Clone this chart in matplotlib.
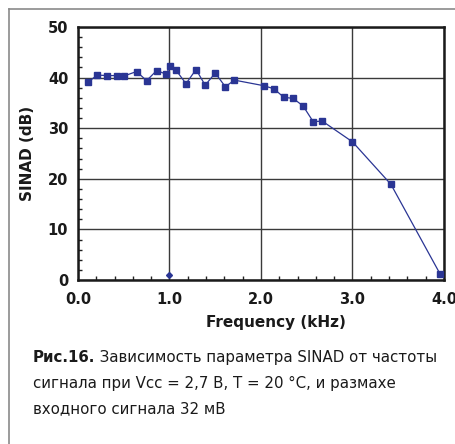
import matplotlib
matplotlib.use("Agg")
import matplotlib.pyplot as plt
from matplotlib.ticker import MultipleLocator
from matplotlib.lines import Line2D

freq_khz = [0.11, 0.21, 0.32, 0.43, 0.50, 0.64, 0.75, 0.86, 0.96, 1.01, 1.07,
            1.18, 1.29, 1.39, 1.50, 1.61, 1.71, 2.03, 2.14, 2.25, 2.35, 2.46,
            2.57, 2.67, 3.00, 3.42, 3.96]
sinad_db = [39.1, 40.5, 40.4, 40.4, 40.3, 41.2, 39.4, 41.4, 40.7, 42.2, 41.5,
            38.8, 41.6, 38.5, 40.9, 38.2, 39.5, 38.4, 37.8, 36.1, 35.9, 34.4,
            31.3, 31.4, 27.3, 18.9, 1.1]
extra_freq = [1.0]
extra_sinad = [0.9]

x_ticks = [0, 1, 2, 3, 4]
x_labels = ["0.0", "1.0", "2.0", "3.0", "4.0"]
y_ticks = [0, 10, 20, 30, 40, 50]

caption_bold = "Рис.16."
caption_rest = " Зависимость параметра SINAD от частоты"
caption_line2 = "сигнала при Vcc = 2,7 В, T = 20 °C, и размахе"
caption_line3 = "входного сигнала 32 мВ"

W, H = 456, 444
fig = plt.figure(figsize=(W / 100, H / 100), dpi=100)
fig.patch.set_facecolor("white")

# outer frame (top & left visible)
fig.add_artist(Line2D([9 / W, 1.0], [1 - 9 / H, 1 - 9 / H], color="#8a8a8a", lw=1.2))
fig.add_artist(Line2D([9 / W, 9 / W], [0, 1 - 9 / H], color="#8a8a8a", lw=1.2))

ax = fig.add_axes([78 / W, 1 - 280 / H, (444 - 78) / W, (280 - 27) / H])
color = "#2a3594"
ax.plot(freq_khz, sinad_db, color=color, lw=0.9, marker="s", ms=4.8,
        mec=color, mfc=color, clip_on=False, zorder=5)
ax.plot(extra_freq, extra_sinad, color=color, lw=0, marker="D", ms=3,
        clip_on=False, zorder=5)

ax.set_xlim(0, 4)
ax.set_ylim(0, 50)
ax.set_xticks(x_ticks)
ax.set_xticklabels(x_labels)
ax.set_yticks(y_ticks)
ax.xaxis.set_minor_locator(MultipleLocator(0.2))
ax.yaxis.set_minor_locator(MultipleLocator(2))
ax.tick_params(axis="x", which="major", length=0, pad=9, labelsize=10.5)
ax.tick_params(axis="y", which="major", length=0, pad=7, labelsize=10.5)
ax.tick_params(which="minor", direction="in", length=3, width=1, color="#222222")
for lab in ax.get_xticklabels() + ax.get_yticklabels():
    lab.set_fontweight("bold")
    lab.set_color("#1a1a1a")
ax.grid(True, which="major", color="#3a3a3a", lw=1.0)
for s in ax.spines.values():
    s.set_linewidth(1.8)
    s.set_color("#1a1a1a")
ax.set_axisbelow(True)

ax.set_xlabel("Frequency (kHz)", fontsize=11, fontweight="bold", color="#1a1a1a")
ax.set_ylabel("SINAD (dB)", fontsize=11, fontweight="bold", color="#1a1a1a")
ax.xaxis.set_label_coords((276 - 78) / 366, (280 - 322) / 253)
ax.xaxis.label.set_va("center")
ax.yaxis.set_label_coords((27 - 78) / 366, 0.5)
ax.yaxis.label.set_va("center")

# caption
fs = 10.8
fam = "DejaVu Sans Condensed"
fig.canvas.draw()
r = fig.canvas.get_renderer()
t1 = fig.text(33 / W, 1 - 357 / H, caption_bold, fontsize=fs, fontweight="bold",
              color="#1a1a1a", va="center", ha="left", family=fam)
bb = t1.get_window_extent(r)
fig.text(bb.x1 / W, 1 - 357 / H, caption_rest, fontsize=fs, color="#1a1a1a",
         va="center", ha="left", family=fam)
fig.text(33 / W, 1 - 383 / H, caption_line2, fontsize=fs, color="#1a1a1a",
         va="center", ha="left", family=fam)
fig.text(33 / W, 1 - 409 / H, caption_line3, fontsize=fs, color="#1a1a1a",
         va="center", ha="left", family=fam)

fig.savefig("out.png", dpi=100)
